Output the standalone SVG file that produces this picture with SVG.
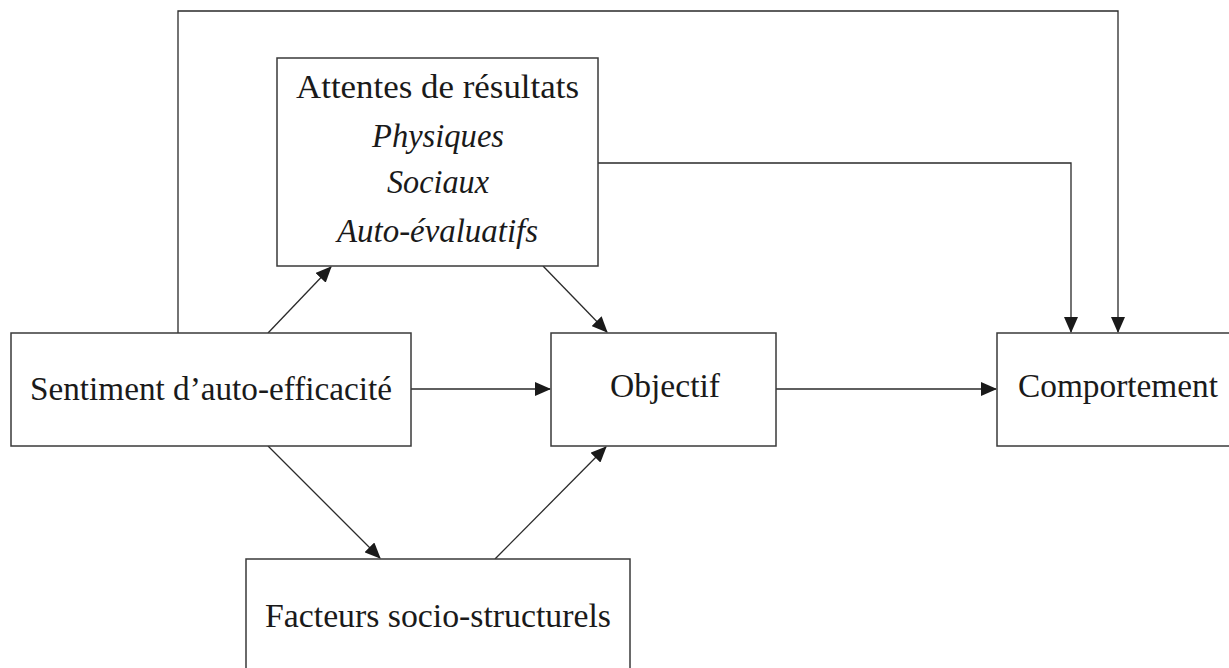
<svg xmlns="http://www.w3.org/2000/svg" width="1229" height="668" viewBox="0 0 1229 668">
<style>
.box{fill:#fff;stroke:#3a3a3a;stroke-width:1.5}
.t{font-family:"Liberation Serif","DejaVu Serif",serif;font-size:33px;fill:#1a1a1a;text-anchor:middle}
.i{font-style:italic}
.c{fill:none;stroke:#2a2a2a;stroke-width:1.3}
</style>
<defs>
<marker id="ah" markerUnits="userSpaceOnUse" markerWidth="16" markerHeight="14" refX="15" refY="7" orient="auto">
<path d="M0,0 L16,7 L0,14 Z" fill="#1a1a1a"/>
</marker>
</defs>
<g id="connectors">
<path class="c" d="M178,333 V11 H1118 V332" marker-end="url(#ah)"/>
<path class="c" d="M598,163 H1071 V332" marker-end="url(#ah)"/>
<path class="c" d="M268,333 L331,267" marker-end="url(#ah)"/>
<path class="c" d="M543,266 L607,332" marker-end="url(#ah)"/>
<path class="c" d="M268,446 L380,558" marker-end="url(#ah)"/>
<path class="c" d="M495,559 L606,447" marker-end="url(#ah)"/>
<path class="c" d="M411,389 H550" marker-end="url(#ah)"/>
<path class="c" d="M776,389 H996" marker-end="url(#ah)"/>
</g>
<g id="attentes">
<rect class="box" x="277" y="58" width="321" height="208"/>
<text class="t" x="437.5" y="98" textLength="283" lengthAdjust="spacingAndGlyphs">Attentes de résultats</text>
<text class="t i" x="438" y="147" textLength="132" lengthAdjust="spacingAndGlyphs">Physiques</text>
<text class="t i" x="438" y="193" textLength="102" lengthAdjust="spacingAndGlyphs">Sociaux</text>
<text class="t i" x="437.5" y="242" textLength="201" lengthAdjust="spacingAndGlyphs">Auto-évaluatifs</text>
</g>
<g id="sentiment">
<rect class="box" x="11" y="333" width="400" height="113"/>
<text class="t" x="211" y="400" textLength="362" lengthAdjust="spacingAndGlyphs">Sentiment d’auto-efficacité</text>
</g>
<g id="objectif">
<rect class="box" x="551" y="333" width="225" height="113"/>
<text class="t" x="665" y="397" textLength="110" lengthAdjust="spacingAndGlyphs">Objectif</text>
</g>
<g id="comportement">
<rect class="box" x="997" y="333" width="240" height="113"/>
<text class="t" x="1118" y="397" textLength="200" lengthAdjust="spacingAndGlyphs">Comportement</text>
</g>
<g id="facteurs">
<rect class="box" x="246" y="559" width="384" height="130"/>
<text class="t" x="438" y="627" textLength="346" lengthAdjust="spacingAndGlyphs">Facteurs socio-structurels</text>
</g>
</svg>
